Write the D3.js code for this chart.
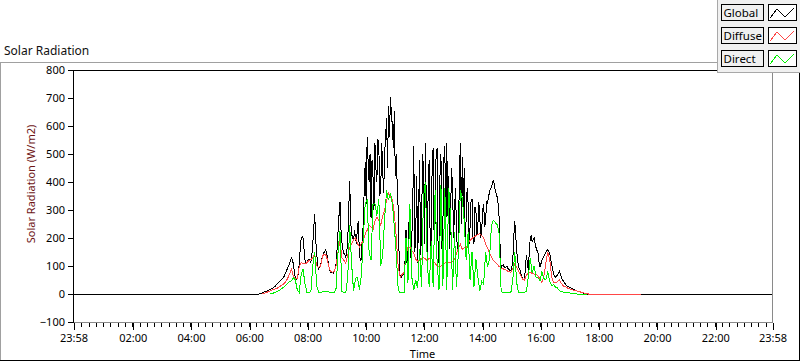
<!DOCTYPE html>
<html><head><meta charset="utf-8">
<script src="https://cdn.jsdelivr.net/npm/d3@7"></script>
<style>
html,body{margin:0;padding:0;background:#fff;}
svg{display:block;font-family:"Noto Sans","Open Sans",sans-serif;}
</style></head><body>
<svg id="chart" width="800" height="361"></svg>
<script>
// ---------- data ----------
const chartTitle = "Solar Radiation";
const yAxisTitle = "Solar Radiation (W/m2)";
const xAxisTitle = "Time";
const axisStart = "23:58";            // axis runs 24 h from here
const xTickLabels = ["23:58","02:00","04:00","06:00","08:00","10:00","12:00","14:00","16:00","18:00","20:00","22:00","23:58"];
const yTicks = [-100,0,100,200,300,400,500,600,700,800];
const seriesNames = ["Global","Diffuse","Direct"];
const seriesColors = ["#000000","#ff4646","#00f000"];
const gridStart = "06:00";            // first sample of the value arrays
const globalStepMin = 2;              // minutes between Global samples
const gridStepMin = 4;                // minutes between Diffuse / Direct samples
const globalValues = [
0,0, 0,0, 0,0, 0,0, 0,0, 0,0, 1,2, 4,5, 7,8, 10,11,
13,14, 16,18, 20,22, 24,27, 31,35, 39,42, 46,50, 53,56, 60,68, 75,84,
92,100, 108,120, 128,122, 107,80, 58,52, 55,70, 107,160, 198,205, 200,160, 120,110,
113,120, 124,118, 113,140, 180,240, 285,190, 150,100, 90,95, 100,120, 135,145, 150,158,
152,130, 110,92, 80,76, 78,74, 80,90, 110,160, 225,280, 330,230, 185,160, 145,140,
130,150, 190,300, 405,260, 215,200, 190,230, 200,180, 240,260, 140,120, 125,200, 250,380,
470,320, 560,470, 400,500, 270,480, 420,300, 540,450, 400,555, 530,350, 380,540, 440,360,
500,560, 630,450, 670,560, 705,640, 600,520, 655,420, 500,380, 300,120,
60,58, 65,70, 80,120, 230,110, 160,250, 320,130, 200,330, 530,150, 200,420, 110,300, 480,140, 210,500,
450,180, 540,300, 130,420, 480,150, 190,480, 520,180, 260,500, 520,180, 110,420, 500,160,
250,480, 530,200, 540,280, 420,160, 310,450, 370,200, 300,380, 230,150, 200,420, 540,250,
490,300, 450,200, 270,380, 320,180, 240,330, 340,200, 180,310, 300,210, 240,330, 275,200,
230,300, 320,240, 260,330, 325,345, 365,375, 383,395, 407,390, 370,358, 345,320, 270,160,
95,100, 105,98, 95,97, 100,92, 88,85, 83,95, 120,200, 260,210, 155,120, 95,88, 80,65, 55,52, 50,90, 140,110, 85,150, 200,210,
185,195, 200,180, 165,155, 145,115, 95,108, 120,128, 135,142, 150,155, 158,152, 145,125, 108,88, 72,65, 60,64, 68,75,
82,70, 60,52, 47,41, 36,32, 29,27, 25,23, 22,20, 18,16, 14,12, 11,9, 8,7, 6,5, 4,3, 2,1, 1,0,
0,0, 0,0, 0,0, 0,0, 0,0, 0];
const diffuseValues = [
null,null,null,null,null,null,null,
0,2,5,8,11,14,16,19,
22,27,32,36,43,55,72,88,65,55,
55,95,112,110,107,112,119,123,130,143,100,95,
100,135,142,137,105,82,78,80,100,150,190,130,120,
110,140,165,178,195,200,180,168,180,190,
215,228,245,240,230,260,275,262,245,280,
300,335,360,345,335,290,200,95,
60,70,78,140,165,167,155,145,125,118,120,125,
131,125,119,128,128,119,110,100,96,100,
106,110,113,113,114,117,125,143,165,178,
160,165,167,180,191,198,204,208,212,215,
208,200,178,165,147,132,119,113,106,98,
93,90,87,83,80,78,92,107,95,82,68,52,50,68,74,77,
74,71,71,64,53,42,62,110,150,125,60,42,41,44,
52,38,29,26,22,19,17,14,12,11,8,7,5,3,1,
0,0,0,0,0,0];
const diffuseTail = {time:"19:28", value:0};
const directValues = [
null,null,null,null,null,null,null,null,null,null,null,
0,2,4,7,
10,14,19,24,30,38,44,47,58,50,
15,5,70,88,35,5,5,8,100,150,30,5,
5,8,10,10,8,6,5,5,20,150,225,10,5,
5,60,245,107,10,55,60,15,65,200,
323,335,150,120,320,323,280,340,100,140,
270,370,335,360,320,240,140,15,
5,5,5,200,40,320,60,15,50,20,160,25,
345,400,100,25,190,25,370,120,15,390,
30,380,15,380,270,15,220,25,150,370,
340,260,120,220,50,150,25,125,60,12,
45,35,150,95,125,245,263,255,248,215,
10,5,5,5,5,5,50,150,40,5,5,5,5,10,60,130,
75,100,60,58,47,80,55,50,80,45,30,33,25,22,
12,9,7,6,5,4,3,2,1,0,0,0,0,0,0,
null,null,null,null,null,null];

// ---------- helpers ----------
const hm = s => { const [h,m] = s.split(":").map(Number); return h*60+m; };
const base = new Date(2020,0,1,0,0);
const axisStartDate = new Date(+base + (hm(axisStart) - 1440)*60000); // previous day 23:58
const axisEndDate = new Date(+axisStartDate + 24*3600000);
const dayTime = s => new Date(+base + hm(s)*60000);

const W = 800, H = 361;
const plot = {l:73, r:772, t:70, b:322};
const svg = d3.select("#chart");

const x = d3.scaleTime().domain([axisStartDate, axisEndDate]).range([plot.l, plot.r]);
const y = d3.scaleLinear().domain([-100, 800]).range([plot.b, plot.t]);

// ---------- outer frame ----------
svg.append("rect").attr("x",0).attr("y",0).attr("width",W).attr("height",H).attr("fill","#fff");
const frame = svg.append("g").attr("shape-rendering","crispEdges");
frame.append("line").attr("x1",0).attr("x2",W).attr("y1",62.5).attr("y2",62.5).attr("stroke","#a0a0a0");
frame.append("line").attr("x1",0.5).attr("x2",0.5).attr("y1",62).attr("y2",H).attr("stroke","#a0a0a0");
frame.append("line").attr("x1",0).attr("x2",W).attr("y1",360.5).attr("y2",360.5).attr("stroke","#000");
frame.append("line").attr("x1",799.5).attr("x2",799.5).attr("y1",62).attr("y2",H).attr("stroke","#000");

// ---------- series ----------
svg.append("clipPath").attr("id","clip").append("rect")
  .attr("x",plot.l).attr("y",plot.t).attr("width",plot.r-plot.l+1).attr("height",plot.b-plot.t);

const t0 = +dayTime(gridStart);
const globalPts = [{t:axisStartDate, v:0},
  ...globalValues.map((v,i)=>({t:new Date(t0 + i*globalStepMin*60000), v})),
  {t:axisEndDate, v:0}];
const diffusePts = [...diffuseValues.map((v,i)=>({t:new Date(t0 + i*gridStepMin*60000), v})),
  {t:dayTime(diffuseTail.time), v:diffuseTail.value}];
const directPts = directValues.map((v,i)=>({t:new Date(t0 + i*gridStepMin*60000), v}));

const line = d3.line().defined(d => d.v !== null).x(d => x(d.t)).y(d => y(d.v));
const gSeries = svg.append("g").attr("clip-path","url(#clip)");
[globalPts, diffusePts, directPts].forEach((pts, k) => {
  gSeries.append("path").datum(pts).attr("d", line)
    .attr("fill","none").attr("stroke", seriesColors[k]).attr("stroke-width",1)
    .attr("shape-rendering","crispEdges");
});

// ---------- plot frame ----------
const pf = svg.append("g").attr("shape-rendering","crispEdges");
pf.append("line").attr("x1",plot.l).attr("x2",plot.r+1).attr("y1",plot.t+0.5).attr("y2",plot.t+0.5).attr("stroke","#000");
pf.append("line").attr("x1",plot.r+0.5).attr("x2",plot.r+0.5).attr("y1",plot.t).attr("y2",plot.b+1).attr("stroke","#8a8a8a");
pf.append("line").attr("x1",plot.l).attr("x2",plot.r+1).attr("y1",plot.b+0.5).attr("y2",plot.b+0.5).attr("stroke","#8a8a8a");
pf.append("line").attr("x1",plot.l+0.5).attr("x2",plot.l+0.5).attr("y1",plot.t).attr("y2",plot.b+1).attr("stroke","#000");

// ---------- axes ----------
const xTickDates = xTickLabels.map((s,i) => i===0 ? axisStartDate : (i===xTickLabels.length-1 ? axisEndDate : dayTime(s)));
const minorDates = d3.timeMinute.every(15).range(axisStartDate, axisEndDate);

const gxMinor = svg.append("g").attr("transform",`translate(0,${plot.b+1})`).attr("shape-rendering","crispEdges");
gxMinor.selectAll("line").data(minorDates).join("line")
  .attr("x1",d=>Math.round(x(d))+0.5).attr("x2",d=>Math.round(x(d))+0.5)
  .attr("y1",0).attr("y2",4).attr("stroke","#000");

const xAxis = d3.axisBottom(x).tickValues(xTickDates).tickSize(7).tickPadding(4)
  .tickFormat((d,i) => xTickLabels[i]);
const gx = svg.append("g").attr("transform",`translate(0.5,${plot.b+1})`).call(xAxis);
gx.select(".domain").remove();
gx.selectAll(".tick line").attr("stroke","#000").attr("shape-rendering","crispEdges")
  .attr("transform", d => `translate(${Math.round(x(d)) - x(d)},0)`);
gx.selectAll(".tick text").attr("font-size",11).attr("fill","#000").attr("font-family","Noto Sans");

const yAxis = d3.axisLeft(y).tickValues(yTicks).tickSize(5).tickPadding(3);
const gy = svg.append("g").attr("transform",`translate(${plot.l},0)`).call(yAxis);
gy.select(".domain").remove();
gy.selectAll(".tick line").attr("stroke","#000").attr("shape-rendering","crispEdges");
gy.selectAll(".tick text").attr("font-size",11).attr("fill","#000").attr("font-family","Noto Sans").attr("dy","0.34em");

// ---------- titles ----------
svg.append("text").attr("x",4).attr("y",55).attr("font-size",12).attr("fill","#111").text(chartTitle);
svg.append("text").attr("transform",`translate(35,${(plot.t+plot.b)/2 - 12}) rotate(-90)`)
  .attr("text-anchor","middle").attr("font-size",11).attr("fill","#6e1515").text(yAxisTitle);
svg.append("text").attr("x",(plot.l+plot.r)/2).attr("y",358).attr("text-anchor","middle")
  .attr("font-size",11).attr("fill","#000").text(xAxisTitle);

// ---------- legend ----------
const lg = svg.append("g").attr("shape-rendering","crispEdges");
lg.append("rect").attr("x",717.5).attr("y",-1).attr("width",84).attr("height",73.5)
  .attr("fill","#f0f0f0").attr("stroke","#a8a8a8");
const rowY = [4, 27, 50];
seriesNames.forEach((name, k) => {
  const y0 = rowY[k];
  lg.append("rect").attr("x",721.5).attr("y",y0+0.5).attr("width",42).attr("height",16)
    .attr("fill","#f0f0f0").attr("stroke","#000");
  lg.append("rect").attr("x",768.5).attr("y",y0+0.5).attr("width",28).attr("height",16)
    .attr("fill","#fff").attr("stroke","#000");
  svg.append("text").attr("x",723.5).attr("y",y0+13).attr("font-size",11.5).attr("fill","#000").text(name);
  const zz = [[770,y0+14],[777,y0+5],[785,y0+13],[794,y0+4]];
  svg.append("path").attr("d", d3.line()(zz)).attr("fill","none")
    .attr("stroke", seriesColors[k]).attr("stroke-width",1).attr("shape-rendering","crispEdges");
});
</script>
</body></html>
